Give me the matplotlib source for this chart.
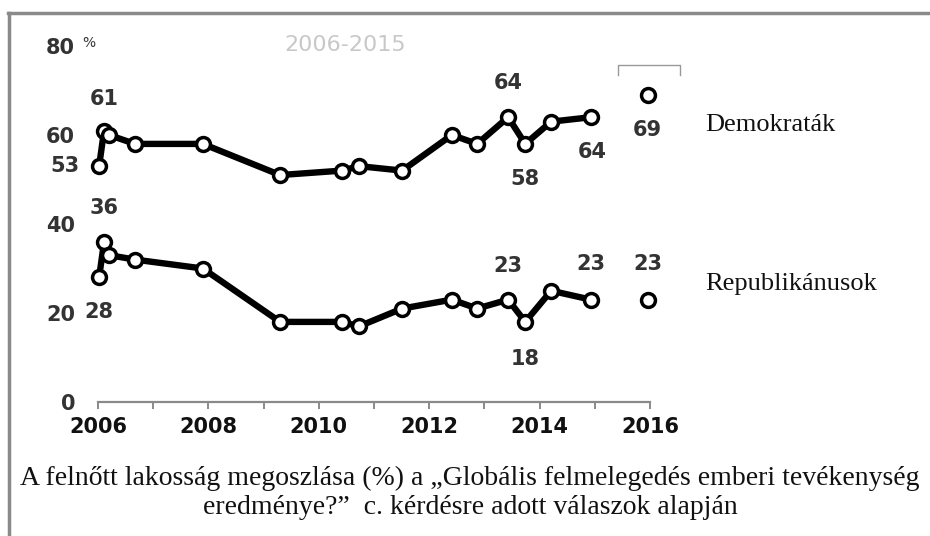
import matplotlib
matplotlib.use('Agg')
import matplotlib.pyplot as plt
from matplotlib.lines import Line2D

# Survey dates (fractional years) and shares (%)
dates = [2006.02, 2006.11, 2006.2, 2006.67, 2007.9, 2009.3, 2010.42, 2010.73,
         2011.51, 2012.41, 2012.87, 2013.43, 2013.74, 2014.21, 2014.93]
dem = [53, 61, 60, 58, 58, 51, 52, 53, 52, 60, 58, 64, 58, 63, 64]
rep = [28, 36, 33, 32, 30, 18, 18, 17, 21, 23, 21, 23, 18, 25, 23]
# separate 2016 reading
date_2016 = 2015.96
dem_2016 = 69
rep_2016 = 23

series_names = ['Demokraták', 'Republikánusok']
x_ticks = [2006, 2008, 2010, 2012, 2014, 2016]
y_ticks = [0, 20, 40, 60, 80]
caption = ['A felnőtt lakosság megoszlása (%) a \u201eGlobális felmelegedés emberi tevékenység',
           'eredménye?\u201d  c. kérdésre adott válaszok alapján']

W, H = 930, 536
fig = plt.figure(figsize=(W / 100, H / 100), dpi=100)
# axes placed in pixel terms: 2006 -> 98px, 2016 -> 650px, 0 -> 402px, 80 -> 46px
ax = fig.add_axes([98 / W, 1 - 402 / H, (650 - 98) / W, (402 - 46) / H])
ax.set_xlim(2006, 2016)
ax.set_ylim(0, 80)

mark_kw = dict(marker='o', ms=10, mfc='white', mec='black', mew=2.5, clip_on=False, zorder=3)
ax.plot(dates, dem, color='black', lw=4.6, **mark_kw)
ax.plot(dates, rep, color='black', lw=4.6, **mark_kw)
ax.plot([date_2016], [dem_2016], ls='none', **mark_kw)
ax.plot([date_2016], [rep_2016], ls='none', **mark_kw)

# Spines / ticks
for s in ['top', 'right', 'left']:
    ax.spines[s].set_visible(False)
ax.spines['bottom'].set_color('#8a8a8a')
ax.spines['bottom'].set_linewidth(1.6)
ax.set_xticks(x_ticks)
ax.set_xticks(range(2007, 2016, 2), minor=True)
ax.tick_params(axis='x', which='both', length=5, width=1.4, color='#8a8a8a', labelsize=15, pad=6,
               labelcolor='#111111')
for lab in ax.get_xticklabels():
    lab.set_fontweight('bold')
ax.set_yticks(y_ticks)
ax.tick_params(axis='y', length=0, labelsize=15, pad=16.5, labelcolor='#333333')
for lab in ax.get_yticklabels():
    lab.set_fontweight('bold')
fig.text(82 / W, 1 - 43 / H, '%', fontsize=10, color='#333333', va='center')

# Data labels (offsets in pixels)
lab_kw = dict(textcoords='offset pixels', ha='center', va='center', fontsize=15,
              fontweight='bold', color='#333333')
ax.annotate('53', (dates[0], dem[0]), xytext=(-34, 0), **lab_kw)
ax.annotate('61', (dates[1], dem[1]), xytext=(0, 32), **lab_kw)
ax.annotate('64', (dates[11], dem[11]), xytext=(0, 34), **lab_kw)
ax.annotate('58', (dates[12], dem[12]), xytext=(0, -35), **lab_kw)
ax.annotate('64', (dates[14], dem[14]), xytext=(1, -35), **lab_kw)
ax.annotate('69', (date_2016, dem_2016), xytext=(0, -35), **lab_kw)
ax.annotate('36', (dates[1], rep[1]), xytext=(0, 34), **lab_kw)
ax.annotate('28', (dates[0], rep[0]), xytext=(0, -35), **lab_kw)
ax.annotate('23', (dates[11], rep[11]), xytext=(0, 34), **lab_kw)
ax.annotate('18', (dates[12], rep[12]), xytext=(0, -37), **lab_kw)
ax.annotate('23', (dates[14], rep[14]), xytext=(0, 36), **lab_kw)
ax.annotate('23', (date_2016, rep_2016), xytext=(0, 36), **lab_kw)

# bracket above the 2016 point
ax.plot([2015.42, 2015.42, 2016.54, 2016.54], [73.5, 75.7, 75.7, 73.5],
        color='#999999', lw=1, clip_on=False)

# period label
fig.text(345 / W, 1 - 45 / H, '2006-2015', fontsize=16, color='#c8c8c8', ha='center', va='center')

# series names
serif = ['Liberation Serif', 'DejaVu Serif']
fig.text(705 / W, 1 - 125 / H, series_names[0], fontsize=19, family=serif, va='center', color='#111111')
fig.text(705 / W, 1 - 284 / H, series_names[1], fontsize=19, family=serif, va='center', color='#111111')

# caption
fig.text(470 / W, 1 - 478 / H, caption[0], fontsize=20, family=serif, ha='center', va='center',
         color='#111111')
fig.text(470 / W, 1 - 507 / H, caption[1], fontsize=20, family=serif, ha='center', va='center',
         color='#111111')

# frame (top and left only)
fig.add_artist(Line2D([8 / W, 1], [1 - 13 / H, 1 - 13 / H], transform=fig.transFigure,
                      color='#8a8a8a', lw=2.5))
fig.add_artist(Line2D([9 / W, 9 / W], [0, 1 - 13 / H], transform=fig.transFigure,
                      color='#8a8a8a', lw=2.5))

fig.savefig('out.png', dpi=100)
